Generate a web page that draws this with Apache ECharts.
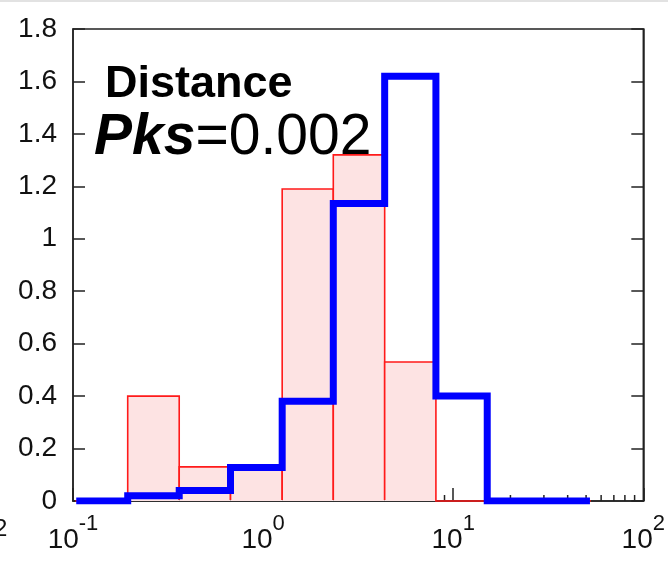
<!DOCTYPE html>
<html>
<head>
<meta charset="utf-8">
<title>Distance</title>
<script src="https://cdn.jsdelivr.net/npm/echarts@6/dist/echarts.min.js"></script>
<style>
  html, body { margin: 0; padding: 0; background: #ffffff; }
  #chart { width: 668px; height: 569px; }
</style>
</head>
<body>
<div id="chart"></div>
<script>
  // bin edges of both histograms (log spaced)
  var binEdges = [0.104, 0.194, 0.362, 0.674, 1.26, 2.34, 4.36, 8.11, 15.1, 28.1, 52.4];
  // red filled histogram, one value per bin
  var redValues = [0, 0.40, 0.13, 0.12, 1.19, 1.32, 0.53, 0, 0, 0];
  // blue step histogram, one value per bin
  var blueValues = [0, 0.02, 0.04, 0.128, 0.38, 1.135, 1.62, 0.40, 0, 0];
  // small log ticks along the bottom axis
  var minorTicks = [0.2, 0.3, 0.4, 0.5, 0.6, 0.7, 0.8, 0.9,
                    2, 3, 4, 5, 6, 7, 8, 9,
                    20, 30, 40, 50, 60, 70, 80, 90];

  var FONT = '"Liberation Sans", Arial, Helvetica, sans-serif';
  var NARROW = '"Liberation Sans Narrow", "Arial Narrow", "Liberation Sans", Arial, sans-serif';

  var redBins = [];
  var blueLine = [];
  for (var i = 0; i < redValues.length; i++) {
    redBins.push([binEdges[i], binEdges[i + 1], redValues[i]]);
  }
  for (var j = 0; j < blueValues.length; j++) {
    blueLine.push([binEdges[j], blueValues[j]]);
    blueLine.push([binEdges[j + 1], blueValues[j]]);
  }

  var chart = echarts.init(document.getElementById('chart'));
  var option = {
    animation: false,
    backgroundColor: '#ffffff',
    grid: {
      show: true,
      left: 73, right: 23, top: 29, bottom: 68,
      borderColor: '#222222',
      borderWidth: 1.5,
      backgroundColor: 'transparent'
    },
    xAxis: {
      type: 'log',
      logBase: 10,
      min: 0.1,
      max: 100,
      axisLine: { show: true, onZero: false, lineStyle: { color: '#222222', width: 1.5 } },
      axisTick: { show: true, inside: true, length: 13, lineStyle: { color: '#222222', width: 1.5 } },
      splitLine: { show: false },
      axisLabel: {
        margin: 12,
        formatter: function (value) {
          var e = Math.round(Math.log(value) / Math.LN10);
          return '{b|10}{s|' + e + '}';
        },
        rich: {
          b: { fontFamily: NARROW, fontSize: 28, color: '#111111', verticalAlign: 'bottom' },
          s: { fontFamily: NARROW, fontSize: 22, color: '#111111', verticalAlign: 'top', padding: [0, 0, 19, 0] }
        }
      }
    },
    yAxis: [{
      type: 'value',
      min: 0,
      max: 1.8,
      interval: 0.2,
      position: 'left',
      axisLine: { show: true, lineStyle: { color: '#222222', width: 1.5 } },
      axisTick: { show: true, inside: true, length: 12, lineStyle: { color: '#222222', width: 1.5 } },
      splitLine: { show: false },
      axisLabel: { margin: 16, fontFamily: FONT, fontSize: 28, color: '#111111' }
    }, {
      type: 'value',
      min: 0,
      max: 1.8,
      interval: 0.2,
      position: 'right',
      axisLine: { show: true, lineStyle: { color: '#222222', width: 1.5 } },
      axisTick: { show: true, inside: true, length: 12, lineStyle: { color: '#222222', width: 1.5 } },
      splitLine: { show: false },
      axisLabel: { show: false }
    }],
    series: [
      {
        // minor log ticks, drawn under the bars
        type: 'custom',
        z: 1,
        silent: true,
        data: minorTicks,
        renderItem: function (params, api) {
          var p = api.coord([api.value(0), 0]);
          return {
            type: 'line',
            shape: { x1: p[0], y1: p[1], x2: p[0], y2: p[1] - 6 },
            style: { stroke: '#222222', lineWidth: 1.5 }
          };
        },
        encode: { x: 0 }
      },
      {
        type: 'custom',
        z: 2,
        silent: true,
        data: redBins,
        encode: { x: [0, 1], y: 2 },
        renderItem: function (params, api) {
          var p0 = api.coord([api.value(0), 0]);
          var p1 = api.coord([api.value(1), api.value(2)]);
          return {
            type: 'group',
            children: [{
              type: 'rect',
              shape: { x: p0[0], y: p1[1], width: p1[0] - p0[0], height: p0[1] - p1[1] },
              style: { fill: '#fde3e3', stroke: null }
            }, {
              type: 'polyline',
              shape: { points: [[p0[0], p0[1] - 1], [p0[0], p1[1]], [p1[0], p1[1]], [p1[0], p0[1] - 1]] },
              style: { stroke: '#ff1a1a', lineWidth: 1.6, fill: null }
            }]
          };
        }
      },
      {
        type: 'line',
        z: 3,
        silent: true,
        data: blueLine,
        symbol: 'none',
        lineStyle: { color: '#0000ff', width: 7, cap: 'butt', join: 'miter' }
      }
    ],
    graphic: [
      {
        type: 'rect',
        left: 0, top: 0,
        shape: { width: 668, height: 2 },
        style: { fill: '#e2e2e2' }
      },
      {
        type: 'text',
        left: -6, top: 517,
        style: { text: '2', font: '24px ' + NARROW, fill: '#111111' }
      },
      {
        type: 'text',
        left: 105, top: 62,
        style: { text: 'Distance', font: 'bold 45px ' + FONT, fill: '#000000' }
      },
      {
        type: 'text',
        left: 94, top: 110,
        style: {
          text: '{p|Pks}{n|=0.002}',
          rich: {
            p: { fontFamily: FONT, fontSize: 57, fontWeight: 'bold', fontStyle: 'italic', fill: '#000000' },
            n: { fontFamily: FONT, fontSize: 57, fill: '#000000' }
          }
        }
      }
    ]
  };
  chart.setOption(option);
</script>
</body>
</html>
